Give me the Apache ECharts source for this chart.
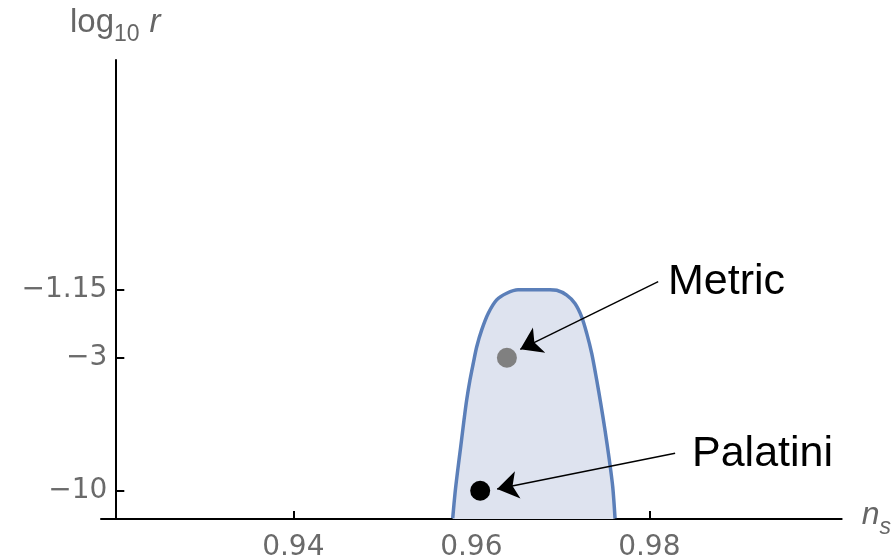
<!DOCTYPE html>
<html>
<head>
<meta charset="utf-8">
<script src="https://cdn.jsdelivr.net/npm/echarts@6/dist/echarts.min.js"></script>
<style>html,body{margin:0;padding:0;background:#fff;}#c{width:895px;height:560px;}</style>
</head>
<body>
<div id="c"></div>
<script>
// Boundary of the allowed region (n_s, log10 r)
var regionNs = [0.95791, 0.95817, 0.95843, 0.95881, 0.95918, 0.95948, 0.95985, 0.96022, 0.96061, 0.96117, 0.96191, 0.96285, 0.96398, 0.96525,
  0.96650, 0.96750, 0.96884, 0.96960,
  0.97072, 0.97165, 0.97240, 0.97297, 0.97353, 0.97409, 0.97454, 0.97502, 0.97551, 0.97589, 0.97615];
var regionLogR = [-12.10, -10.19, -8.80, -7.13, -5.67, -4.70, -3.84, -3.20, -2.63, -2.12, -1.68, -1.37, -1.23, -1.16,
  -1.16, -1.16, -1.16, -1.17,
  -1.27, -1.45, -1.77, -2.22, -2.85, -3.84, -4.85, -6.19, -7.94, -9.72, -12.10];
// Model points
var pointNames = ['Metric', 'Palatini'];
var pointNs = [0.9640, 0.9610];
var pointLogR = [-3, -10];
var pointColors = ['#808080', '#000000'];
// Annotation arrows (start -> tip) and label anchors
var arrowStartNs = [0.9810, 0.9829];
var arrowStartLogR = [-1.007, -7.52];
var arrowTipNs = [0.9655, 0.9629];
var arrowTipLogR = [-2.715, -9.88];
var labelNs = [0.9821, 0.9848];
var labelLogR = [-1.013, -7.57];
// Tick labels
var xTicks = [0.94, 0.96, 0.98];
var yTicks = [-1.15, -3, -10];

// y-axis display transform
function T(v) { return -Math.pow(-v, 0.4); }

var regionData = regionNs.map(function (x, i) { return [x, T(regionLogR[i])]; });
var yTickT = yTicks.map(T);

var chart = echarts.init(document.getElementById('c'));
chart.setOption({
  animation: false,
  grid: { left: 101, top: 60, width: 740.7, height: 459, outerBoundsMode: 'none', containLabel: false },
  xAxis: {
    type: 'value', min: 0.918393, max: 1.001618,
    name: '{n|n}{s|s}', nameLocation: 'end', nameGap: 20,
    nameTextStyle: { rich: {
      n: { fontFamily: 'Liberation Sans', fontStyle: 'italic', fontSize: 32, color: '#666', padding: [0, 0, 8, 0], verticalAlign: 'bottom' },
      s: { fontFamily: 'Liberation Sans', fontStyle: 'italic', fontSize: 23, color: '#666', verticalAlign: 'bottom' } } },
    axisLine: { onZero: false, lineStyle: { color: '#000', width: 2 } },
    axisTick: { inside: true, length: 8, customValues: xTicks, lineStyle: { color: '#000', width: 2 } },
    axisLabel: { customValues: xTicks, fontFamily: 'DejaVu Sans', fontSize: 28, color: '#6a6a6a', margin: 15,
      formatter: function (v) { return v.toFixed(2); } },
    splitLine: { show: false }
  },
  yAxis: {
    type: 'value', min: -2.7162, max: 0.5978, offset: -14.3,
    name: '{a|log}{b|10}{c|r}', nameLocation: 'end', nameGap: 14,
    nameTextStyle: { align: 'center', rich: {
      a: { fontFamily: 'Liberation Sans', fontSize: 33, color: '#666', padding: [0, 0, 7, 0], verticalAlign: 'bottom' },
      b: { fontFamily: 'Liberation Sans', fontSize: 23, color: '#666', verticalAlign: 'bottom' },
      c: { fontFamily: 'Liberation Sans', fontStyle: 'italic', fontSize: 33, color: '#666', padding: [0, 0, 7, 10], verticalAlign: 'bottom' } } },
    axisLine: { lineStyle: { color: '#000', width: 2 } },
    axisTick: { inside: true, length: 9, customValues: yTickT, lineStyle: { color: '#000', width: 2 } },
    axisLabel: { customValues: yTickT, fontFamily: 'DejaVu Sans', fontSize: 28, color: '#6a6a6a', margin: 8,
      formatter: function (v) {
        for (var i = 0; i < yTicks.length; i++) {
          if (Math.abs(yTickT[i] - v) < 1e-6) return String(yTicks[i]).replace('-', '\u2212');
        }
        return '';
      } },
    splitLine: { show: false }
  },
  series: [
    {
      type: 'line', data: regionData, smooth: 0.3, symbol: 'none',
      lineStyle: { color: '#5b7fb9', width: 3.5 },
      areaStyle: { color: '#dee3ef', opacity: 1, origin: 'start' },
      z: 1
    },
    {
      type: 'lines', coordinateSystem: 'cartesian2d', z: 3,
      symbol: ['none', 'arrow'], symbolSize: [0, 21],
      lineStyle: { color: '#000', width: 1.4, opacity: 1 },
      data: arrowStartNs.map(function (x, i) {
        return { coords: [[x, T(arrowStartLogR[i])], [arrowTipNs[i], T(arrowTipLogR[i])]] };
      })
    },
    {
      type: 'scatter', symbolSize: 20, z: 4,
      data: pointNs.map(function (x, i) {
        return { value: [x, T(pointLogR[i])], itemStyle: { color: pointColors[i], opacity: 1 } };
      })
    },
    {
      type: 'scatter', symbolSize: 0, z: 4,
      itemStyle: { opacity: 1 },
      label: { show: true, position: 'right', distance: 0, fontFamily: 'Liberation Sans', fontSize: 43, color: '#000', opacity: 1,
        formatter: function (p) { return p.name; } },
      data: labelNs.map(function (x, i) {
        return { name: pointNames[i], value: [x, T(labelLogR[i])] };
      })
    }
  ]
});
</script>
</body>
</html>
